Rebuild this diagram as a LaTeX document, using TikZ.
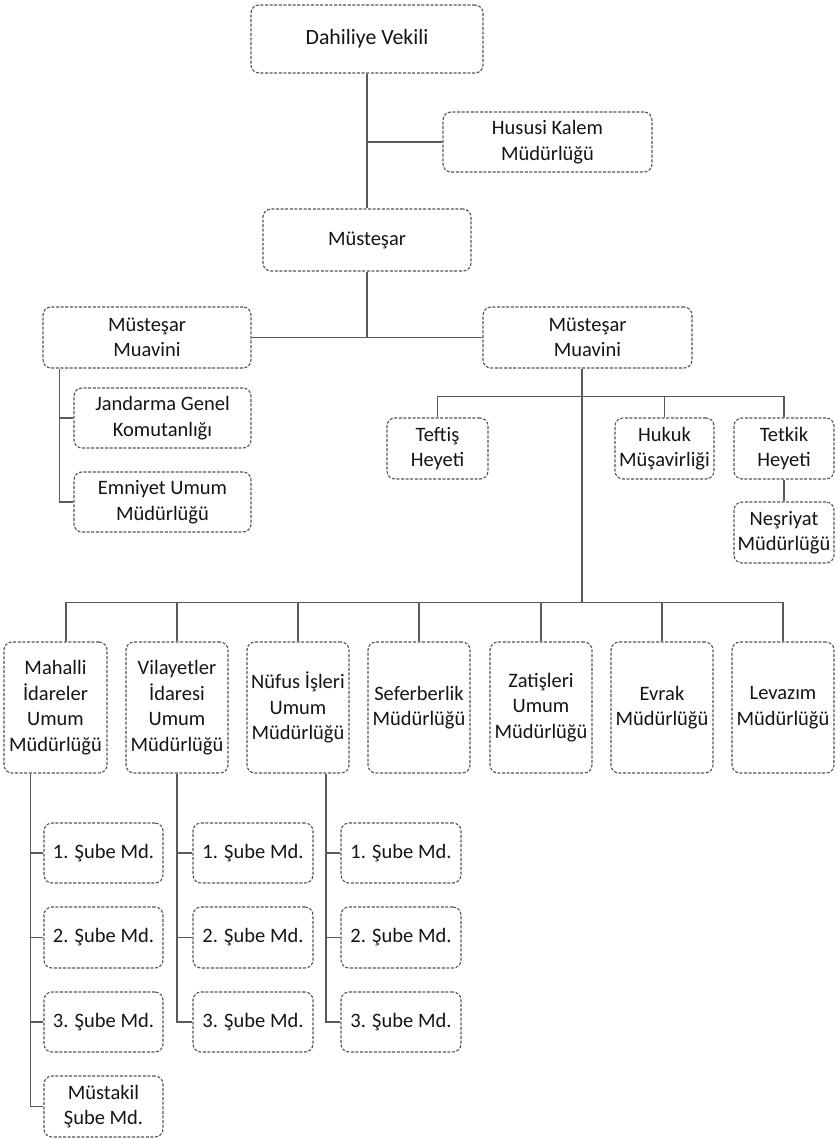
\documentclass[tikz,border=0pt]{standalone}
\usepackage{fontspec}
\setmainfont{Carlito}
\usetikzlibrary{calc}
\definecolor{lc}{HTML}{5A5A5A}
\definecolor{bc}{HTML}{555555}
\definecolor{tc}{HTML}{151515}
\tikzset{
  orgbox/.style={draw=bc, line width=1.1pt, dash pattern=on 3pt off 1.6pt,
    rounded corners=8pt, align=center, inner sep=0pt, text=tc,
    font=\fontsize{20.5}{25.5}\selectfont},
  conn/.style={draw=lc, line width=1.3pt},
}
\begin{document}
\begin{tikzpicture}[x=1pt,y=-1pt]
\useasboundingbox[fill=white] (0,0) rectangle (839,1139);
% top
\node[orgbox, minimum width=232pt, minimum height=68pt, font=\fontsize{21.8}{26}\selectfont] (dv) at (367,39) {Dahiliye Vekili};
\node[orgbox, minimum width=209pt, minimum height=60pt] (hk) at (547.5,142) {Hususi Kalem\\Müdürlüğü};
\node[orgbox, minimum width=208pt, minimum height=62pt] (mus) at (367,240) {Müsteşar};
\node[orgbox, minimum width=208pt, minimum height=61pt] (mmL) at (147,337.5) {Müsteşar\\Muavini};
\node[orgbox, minimum width=209pt, minimum height=61pt] (mmR) at (587.5,337.5) {Müsteşar\\Muavini};
\node[orgbox, minimum width=177pt, minimum height=60pt] (jan) at (162.5,418) {Jandarma Genel\\Komutanlığı};
\node[orgbox, minimum width=177pt, minimum height=60pt] (emn) at (162.5,502) {Emniyet Umum\\Müdürlüğü};
\node[orgbox, minimum width=101pt, minimum height=61pt] (tef) at (437.5,448.5) {Teftiş\\Heyeti};
\node[orgbox, minimum width=99pt, minimum height=61pt] (huk) at (664.5,448.5) {Hukuk\\Müşavirliği};
\node[orgbox, minimum width=100pt, minimum height=61pt] (tet) at (784,448.5) {Tetkik\\Heyeti};
\node[orgbox, minimum width=100pt, minimum height=61pt] (nes) at (784,532.5) {Neşriyat\\Müdürlüğü};
% bottom row
\node[orgbox, minimum width=103pt, minimum height=131pt] (mah) at (55.5,707.5) {Mahalli\\İdareler\\Umum\\Müdürlüğü};
\node[orgbox, minimum width=102pt, minimum height=131pt] (vil) at (177,707.5) {Vilayetler\\İdaresi\\Umum\\Müdürlüğü};
\node[orgbox, minimum width=102pt, minimum height=131pt] (nuf) at (298,707.5) {Nüfus İşleri\\Umum\\Müdürlüğü};
\node[orgbox, minimum width=102pt, minimum height=131pt] (sef) at (419,707.5) {Seferberlik\\Müdürlüğü};
\node[orgbox, minimum width=102pt, minimum height=131pt] (zat) at (541,707.5) {Zatişleri\\Umum\\Müdürlüğü};
\node[orgbox, minimum width=102pt, minimum height=131pt] (evr) at (662,707.5) {Evrak\\Müdürlüğü};
\node[orgbox, minimum width=102pt, minimum height=131pt] (lev) at (783,707.5) {Levazım\\Müdürlüğü};
% sube boxes
\node[orgbox, minimum width=119pt, minimum height=60pt] (a1) at (103.5,853) {1. Şube Md.};
\node[orgbox, minimum width=119pt, minimum height=61pt] (a2) at (103.5,937.5) {2. Şube Md.};
\node[orgbox, minimum width=119pt, minimum height=60pt] (a3) at (103.5,1022) {3. Şube Md.};
\node[orgbox, minimum width=119pt, minimum height=61pt] (a4) at (103.5,1106.5) {Müstakil\\Şube Md.};
\node[orgbox, minimum width=120pt, minimum height=60pt] (b1) at (253,853) {1. Şube Md.};
\node[orgbox, minimum width=120pt, minimum height=61pt] (b2) at (253,937.5) {2. Şube Md.};
\node[orgbox, minimum width=120pt, minimum height=60pt] (b3) at (253,1022) {3. Şube Md.};
\node[orgbox, minimum width=120pt, minimum height=60pt] (c1) at (401,853) {1. Şube Md.};
\node[orgbox, minimum width=120pt, minimum height=61pt] (c2) at (401,937.5) {2. Şube Md.};
\node[orgbox, minimum width=120pt, minimum height=60pt] (c3) at (401,1022) {3. Şube Md.};
% connectors
\draw[conn] (dv.south) -- (mus.north);
\draw[conn] (dv.south |- hk.west) -- (hk.west);
\draw[conn] (mmL.east) -- (mmR.west);
\draw[conn] (mus.south) -- (mus.south |- mmL.east);
\coordinate (lx) at ($(mmL.south west)+(17,0)$);
\draw[conn] (lx) |- (emn.west);
\draw[conn] (lx |- jan.west) -- (jan.west);
\coordinate (rv) at ($(mmR.south)+(-5.5,0)$);
\draw[conn] (rv) -- ($(rv |- lev.north)+(0,-39)$);
\draw[conn] (tef.north) -- ++(0,-21) -| (tet.north);
\draw[conn] (huk.north) -- ++(0,-21);
\draw[conn] (tet.south) -- (nes.north);
\coordinate (mx) at ($(mah.north)+(10.5,0)$);
\draw[conn] (mx) -- ++(0,-39) -| (lev.north);
\foreach \n in {vil,nuf,sef,zat,evr}{\draw[conn] (\n.north) -- ++(0,-39);}
\coordinate (ma) at ($(mah.south)+(-25,0)$);
\draw[conn] (ma) |- (a4.west);
\foreach \n in {a1,a2,a3}{\draw[conn] (ma |- \n.west) -- (\n.west);}
\draw[conn] (vil.south) |- (b3.west);
\foreach \n in {b1,b2}{\draw[conn] (vil.south |- \n.west) -- (\n.west);}
\coordinate (na) at ($(nuf.south)+(28,0)$);
\draw[conn] (na) |- (c3.west);
\foreach \n in {c1,c2}{\draw[conn] (na |- \n.west) -- (\n.west);}
\end{tikzpicture}
\end{document}
